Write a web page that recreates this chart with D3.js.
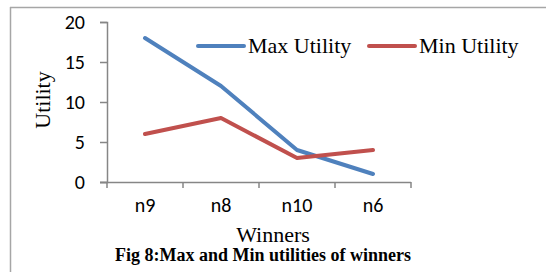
<!DOCTYPE html>
<html>
<head>
<meta charset="utf-8">
<script src="https://cdn.jsdelivr.net/npm/d3@7"></script>
<style>
  body { margin: 0; background: #fff; }
  svg { display: block; }
</style>
</head>
<body>
<div id="chart"></div>
<script>
// # Data.
const winners = ['n9', 'n8', 'n10', 'n6']
const maxUtility = [18, 12, 4, 1]
const minUtility = [6, 8, 3, 4]
const yTicks = [0, 5, 10, 15, 20]

const seriesNames = ['Max Utility', 'Min Utility']
const seriesColors = ['#4f81bd', '#c0504d']

const width = 546
const height = 272
const plot = {left: 107, right: 411, top: 22, bottom: 182}

const sansFont = 'Carlito, "Open Sans", "Liberation Sans", sans-serif'
const serifFont = '"Liberation Serif", "Times New Roman", serif'

const svg = d3.select('#chart')
    .append('svg')
    .attr('width', width)
    .attr('height', height)

// # Frame: only top and left edges are visible.
svg.append('line')
    .attr('x1', 10).attr('y1', 7.5).attr('x2', width).attr('y2', 7.5)
    .attr('stroke', '#a6a6a6').attr('stroke-width', 1.5)
svg.append('line')
    .attr('x1', 10.5).attr('y1', 7).attr('x2', 10.5).attr('y2', height)
    .attr('stroke', '#a6a6a6').attr('stroke-width', 1.5)

const x = d3.scaleBand()
    .domain(winners)
    .range([plot.left, plot.right])

const y = d3.scaleLinear()
    .domain([0, 20])
    .range([plot.bottom, plot.top])

// # Y axis
const yAxis = svg.append('g')
    .attr('transform', `translate(${plot.left},0)`)
    .call(d3.axisLeft(y).tickValues(yTicks).tickSize(7).tickPadding(15))
yAxis.selectAll('path, line').attr('stroke', '#868686').attr('stroke-width', 1.5)
yAxis.selectAll('text')
    .attr('fill', '#000')
    .style('font-family', sansFont)
    .style('font-size', '20px')

// # X axis: ticks sit on band edges.
const xAxis = svg.append('g')
    .attr('transform', `translate(0,${plot.bottom})`)
    .call(d3.axisBottom(x).tickSize(0).tickPadding(16))
xAxis.select('path').attr('stroke', '#868686').attr('stroke-width', 1.5)
    .attr('d', `M${plot.left - 7},0.5H${plot.right}`)
xAxis.selectAll('text')
    .attr('fill', '#000')
    .style('font-family', sansFont)
    .style('font-size', '20px')
const edges = winners.map(w => x(w)).concat([plot.right])
xAxis.selectAll('.edge')
    .data(edges)
    .enter().append('line')
    .attr('class', 'edge')
    .attr('x1', d => d).attr('x2', d => d)
    .attr('y1', 0).attr('y2', 6)
    .attr('stroke', '#868686').attr('stroke-width', 1.5)

// # Lines
const lineGen = d3.line()
    .x((d, i) => x(winners[i]) + x.bandwidth() / 2)
    .y(d => y(d))

;[maxUtility, minUtility].forEach((vals, i) => {
    svg.append('path')
        .datum(vals)
        .attr('d', lineGen)
        .attr('fill', 'none')
        .attr('stroke', seriesColors[i])
        .attr('stroke-width', 4)
        .attr('stroke-linecap', 'round')
        .attr('stroke-linejoin', 'round')
})

// # Legend
const legendX = [198, 369]
seriesNames.forEach((name, i) => {
    const g = svg.append('g').attr('transform', `translate(${legendX[i]},46)`)
    g.append('line')
        .attr('x1', 0).attr('x2', 46)
        .attr('y1', 0).attr('y2', 0)
        .attr('stroke', seriesColors[i])
        .attr('stroke-width', 4)
        .attr('stroke-linecap', 'round')
    g.append('text')
        .attr('x', 50).attr('y', 7)
        .style('font-family', serifFont)
        .style('font-size', '22px')
        .text(name)
})

// # Axis titles
svg.append('text')
    .attr('transform', 'translate(50,100) rotate(-90)')
    .attr('text-anchor', 'middle')
    .style('font-family', serifFont)
    .style('font-size', '22px')
    .text('Utility')

svg.append('text')
    .attr('x', 273).attr('y', 242)
    .attr('text-anchor', 'middle')
    .style('font-family', serifFont)
    .style('font-size', '22px')
    .text('Winners')

svg.append('text')
    .attr('x', 263).attr('y', 261)
    .attr('text-anchor', 'middle')
    .style('font-family', serifFont)
    .style('font-size', '18px')
    .style('font-weight', 'bold')
    .text('Fig 8:Max and Min utilities of winners')
</script>
</body>
</html>
